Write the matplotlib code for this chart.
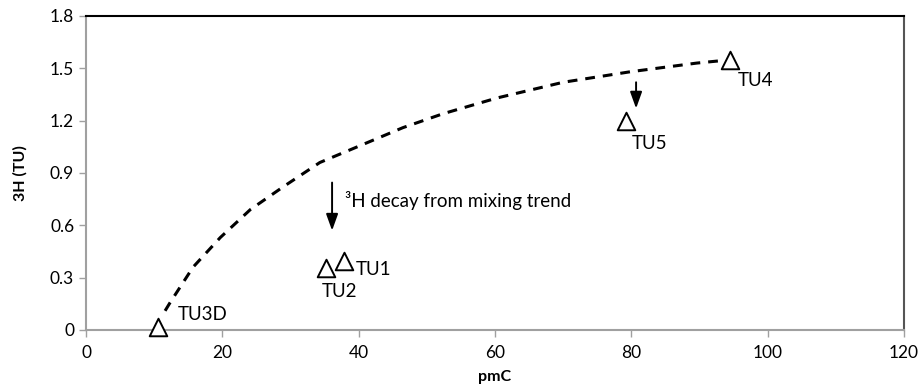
import matplotlib
matplotlib.use("Agg")
import matplotlib.pyplot as plt

plt.rcParams['font.family'] = ['Lato', 'DejaVu Sans']

# samples
names = ["TU3D", "TU2", "TU1", "TU5", "TU4"]
pmc = [10.6, 35.2, 37.8, 79.2, 94.5]
tritium = [0.02, 0.355, 0.395, 1.20, 1.55]

# mixing trend
mix_pmc = [11.6, 12.3, 15.7, 19.7, 24.1, 28.9, 34.3, 39.8, 46.5, 52.4, 60.3, 70.0, 79.8, 89.6, 93.5]
mix_h3 = [0.11, 0.155, 0.36, 0.53, 0.69, 0.82, 0.96, 1.05, 1.16, 1.24, 1.33, 1.42, 1.48, 1.53, 1.545]

label_offsets = {"TU3D": (2.9, 0.07), "TU2": (-0.6, -0.135), "TU1": (1.8, -0.05),
                 "TU5": (0.9, -0.13), "TU4": (1.1, -0.12)}

arrow_style = "-|>,head_length=1.0,head_width=0.36"

fig = plt.figure(figsize=(9.18, 3.87), dpi=100)
ax = fig.add_axes([0.0937, 0.1473, 0.891, 0.8114])

ax.plot(mix_pmc, mix_h3, color="black", lw=2.2, linestyle=(0, (3.2, 2.6)), zorder=2)
ax.scatter(pmc, tritium, marker="^", s=160, facecolor="white", edgecolor="black",
           linewidths=1.4, zorder=3, clip_on=False)

for n, x, y in zip(names, pmc, tritium):
    dx, dy = label_offsets[n]
    ax.text(x + dx, y + dy, n, fontsize=13.5, ha="left", va="center")

ax.annotate("", xy=(36.1, 0.57), xytext=(36.1, 0.845),
            arrowprops=dict(arrowstyle=arrow_style, color="black", lw=1.4,
                            mutation_scale=10, shrinkA=0, shrinkB=0))
ax.text(38, 0.745, "³H decay from mixing trend", fontsize=13.5, ha="left", va="center")
ax.annotate("", xy=(80.7, 1.27), xytext=(80.7, 1.42),
            arrowprops=dict(arrowstyle=arrow_style, color="black", lw=1.4,
                            mutation_scale=10, shrinkA=0, shrinkB=0))

ax.set_xlim(0, 120)
ax.set_ylim(0, 1.8)
ax.set_xticks([0, 20, 40, 60, 80, 100, 120])
ax.set_yticks([0, 0.3, 0.6, 0.9, 1.2, 1.5, 1.8])
ax.set_yticklabels(["0", "0.3", "0.6", "0.9", "1.2", "1.5", "1.8"])
ax.tick_params(labelsize=12.5, color="#a0a0a0", length=5, width=1)
ax.tick_params(axis="x", pad=6)
ax.set_xlabel("pmC", fontsize=11.5, fontweight="bold", labelpad=6)
ax.set_ylabel("3H (TU)", fontsize=11.5, fontweight="bold", labelpad=16)

ax.spines["left"].set_color("#a0a0a0")
ax.spines["bottom"].set_color("#a0a0a0")
ax.spines["top"].set_color("black")
ax.spines["right"].set_color("#555555")
for s in ax.spines.values():
    s.set_linewidth(1.5)

fig.savefig("out.png", dpi=100)
